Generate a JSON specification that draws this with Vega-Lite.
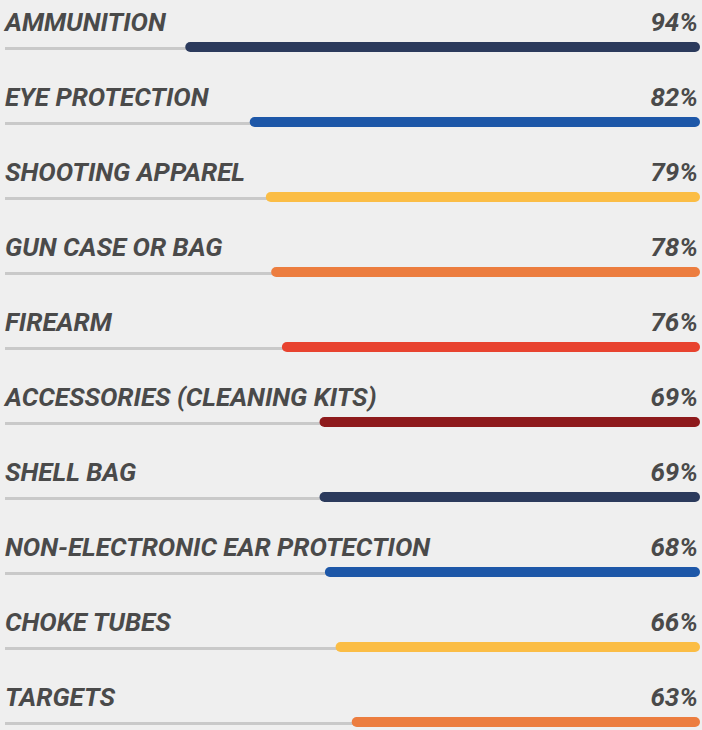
{
  "$schema": "https://vega.github.io/schema/vega-lite/v6.json",
  "width": 702,
  "height": 730,
  "padding": 0,
  "autosize": {"type": "none"},
  "background": "#efefef",
  "config": {"view": {"stroke": null}},
  "data": {
    "values": [
      {"item": "AMMUNITION", "share": 0.94, "color": "c1"},
      {"item": "EYE PROTECTION", "share": 0.82, "color": "c2"},
      {"item": "SHOOTING APPAREL", "share": 0.79, "color": "c3"},
      {"item": "GUN CASE OR BAG", "share": 0.78, "color": "c4"},
      {"item": "FIREARM", "share": 0.76, "color": "c5"},
      {"item": "ACCESSORIES (CLEANING KITS)", "share": 0.69, "color": "c6"},
      {"item": "SHELL BAG", "share": 0.69, "color": "c1"},
      {"item": "NON-ELECTRONIC EAR PROTECTION", "share": 0.68, "color": "c2"},
      {"item": "CHOKE TUBES", "share": 0.66, "color": "c3"},
      {"item": "TARGETS", "share": 0.63, "color": "c4"}
    ]
  },
  "encoding": {
    "y": {
      "field": "item",
      "type": "nominal",
      "sort": null,
      "axis": null,
      "scale": {"type": "point", "range": [47, 722], "padding": 0}
    }
  },
  "layer": [
    {
      "mark": {"type": "rule", "stroke": "#c9c9c9", "strokeWidth": 3, "yOffset": 1.5},
      "encoding": {
        "x": {"datum": 1.285, "type": "quantitative", "scale": {"domain": [0, 1.285], "range": [695, 5], "nice": false, "zero": false}, "axis": null},
        "x2": {"datum": 0}
      }
    },
    {
      "mark": {"type": "rule", "strokeWidth": 10, "strokeCap": "round"},
      "encoding": {
        "x": {"field": "share", "type": "quantitative"},
        "x2": {"datum": 0},
        "color": {
          "field": "color",
          "type": "nominal",
          "legend": null,
          "scale": {
            "domain": ["c1", "c2", "c3", "c4", "c5", "c6"],
            "range": ["#2b3a5c", "#1d57a8", "#fbbd45", "#ec7d3f", "#e8432f", "#8e1a1c"]
          }
        }
      }
    },
    {
      "mark": {
        "type": "text",
        "align": "left",
        "baseline": "alphabetic",
        "dy": -16,
        "font": "Roboto",
        "fontSize": 26,
        "fontWeight": "bold",
        "fontStyle": "italic",
        "fill": "#4a4a4a"
      },
      "encoding": {
        "x": {"datum": 1.285, "type": "quantitative"},
        "text": {"field": "item"}
      }
    },
    {
      "mark": {
        "type": "text",
        "align": "right",
        "baseline": "alphabetic",
        "dy": -16,
        "dx": 3,
        "font": "Roboto",
        "fontSize": 26,
        "fontWeight": "bold",
        "fontStyle": "italic",
        "fill": "#4a4a4a"
      },
      "encoding": {
        "x": {"datum": 0, "type": "quantitative"},
        "text": {"field": "share", "format": ".0%"}
      }
    }
  ]
}
